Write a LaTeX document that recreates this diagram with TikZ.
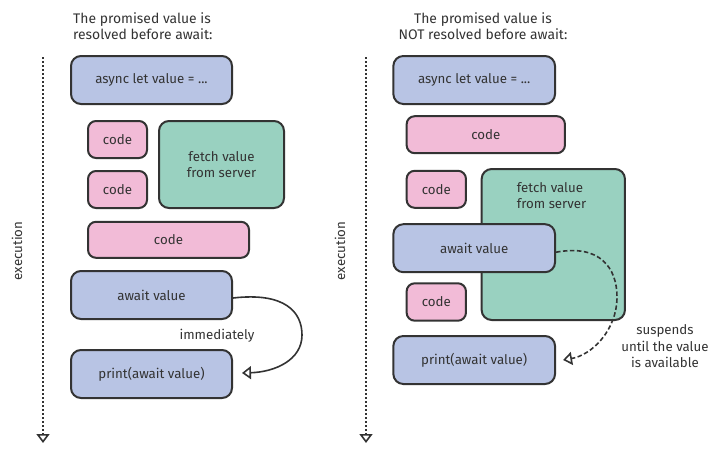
\documentclass[tikz,border=0pt]{standalone}
\usepackage{fontspec}
\setmainfont{Fira Sans}
\usetikzlibrary{arrows.meta}
\definecolor{ink}{HTML}{333333}
\definecolor{bluef}{HTML}{B8C4E4}
\definecolor{pinkf}{HTML}{F2BBD7}
\definecolor{greenf}{HTML}{99D1C0}
\tikzset{
  boxbase/.style={draw=ink, line width=2pt, text=ink, inner sep=0pt, align=center,
    font=\fontsize{13.3}{16}\selectfont},
  bluebox/.style={boxbase, fill=bluef, rounded corners=10pt},
  pinkbox/.style={boxbase, fill=pinkf, rounded corners=8pt},
  greenbox/.style={boxbase, fill=greenf, rounded corners=10pt},
  txt/.style={text=ink, inner sep=0pt, font=\fontsize{13.3}{16.5}\selectfont},
  ttl/.style={text=ink, inner sep=0pt, font=\fontsize{13.9}{16}\selectfont},
  timeline/.style={draw=ink, line width=1.6pt, dash pattern=on 2pt off 2pt,
    -{Triangle[open, length=9pt, width=13pt, line width=1.6pt, sep=0pt]}},
  conn/.style={draw=ink, line width=1.6pt,
    -{Triangle[open, length=9pt, width=13pt, line width=1.6pt]}},
}
\begin{document}
\begin{tikzpicture}[x=1pt,y=-1pt]
\useasboundingbox (0,0) rectangle (721,455);
% ---------- left panel ----------
\node[ttl, anchor=north west, align=left] (title1) at (73,12) {The promised value is\\resolved before await:};
\coordinate (tl1s) at (43,57);
\coordinate (tl1e) at (43,443);
\draw[timeline] (tl1s) -- (tl1e);
\node[txt, rotate=90] (exec1) at (17,251) {execution};

\node[bluebox, minimum width=161pt, minimum height=48pt] (async1) at (151.5,80) {async let value = ...};
\node[pinkbox, minimum width=59pt, minimum height=37pt] (code1) at (117.5,139.5) {code};
\node[pinkbox, minimum width=59pt, minimum height=37pt] (code2) at (117.5,189.5) {code};
\node[greenbox, minimum width=125pt, minimum height=87pt] (fetch1) at (221.5,164.5) {fetch value\\from server};
\node[pinkbox, minimum width=161pt, minimum height=36pt] (code3) at (168.5,239.8) {code};
\node[bluebox, minimum width=161pt, minimum height=48pt] (await1) at (151.5,295) {await value};
\node[bluebox, minimum width=161pt, minimum height=48pt] (print1) at (151.5,374) {print(await value)};
\node[txt] (imm) at (217,335.5) {immediately};
\draw[conn] ([yshift=-3pt]await1.east) .. controls (285,292) and (302,312) .. (302,335)
  .. controls (302,360) and (275,372) .. ([xshift=9pt,yshift=1pt]print1.east);

% ---------- right panel ----------
\node[ttl, anchor=north, align=center] (title2) at (483,12) {The promised value is\\NOT resolved before await:};
\coordinate (tl2s) at (366,57);
\coordinate (tl2e) at (366,443);
\draw[timeline] (tl2s) -- (tl2e);
\node[txt, rotate=90] (exec2) at (340,251) {execution};

\node[bluebox, minimum width=161.7pt, minimum height=48pt] (async2) at (474.2,80) {async let value = ...};
\node[pinkbox, minimum width=158.3pt, minimum height=37pt] (code4) at (485.8,134.7) {code};
\node[pinkbox, minimum width=59.3pt, minimum height=37pt] (code5) at (436.3,189.3) {code};
\node[greenbox, minimum width=143.3pt, minimum height=151pt] (fetch2) at (553.3,244.5) {};
\node[txt, anchor=north west, align=left] (fetch2t) at (516.7,182) {fetch value\\from server};
\node[bluebox, minimum width=161.7pt, minimum height=48pt] (await2) at (474.2,248.2) {await value};
\node[pinkbox, minimum width=59.3pt, minimum height=37.4pt] (code6) at (436.3,302) {code};
\node[bluebox, minimum width=161.7pt, minimum height=48pt] (print2) at (474.2,360) {print(await value)};
\node[txt, align=center] (susp) at (665,346.5) {suspends\\until the value\\is available};
\draw[conn, dash pattern=on 4.5pt off 2.5pt] ([yshift=-4pt]await2.east) .. controls (600,244) and (617,268) .. (617,297)
  .. controls (617,330) and (592,355) .. ([xshift=7pt]print2.east);
\end{tikzpicture}
\end{document}
